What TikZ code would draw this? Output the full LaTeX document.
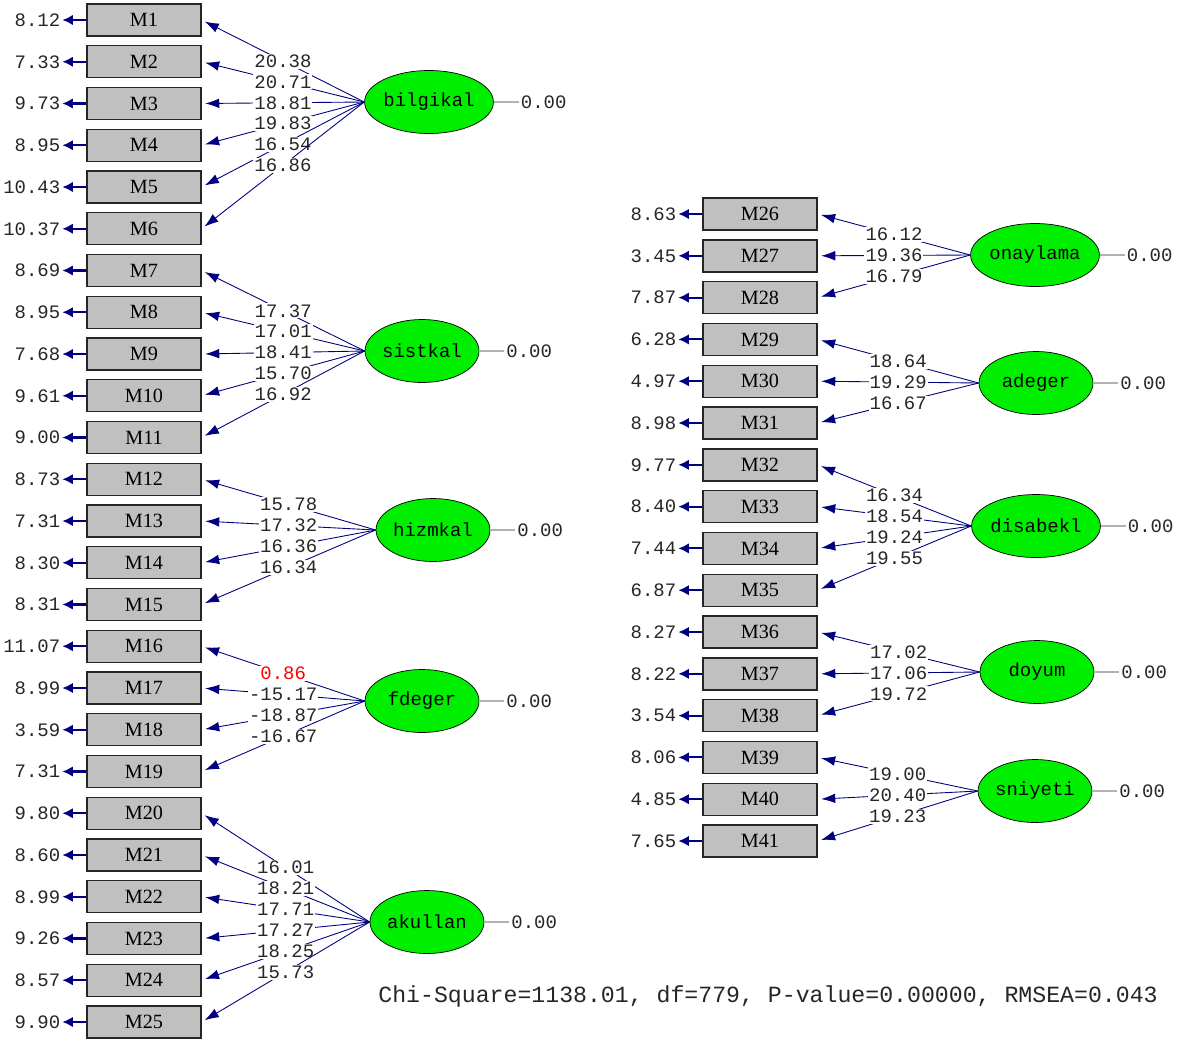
\documentclass[tikz,border=0pt]{standalone}
\usepackage{fontspec}
\setmainfont{Liberation Serif}
\newfontfamily\lismono{Liberation Mono}
\usetikzlibrary{positioning, shapes.geometric, arrows.meta}
\definecolor{lnavy}{RGB}{0,0,128}
\definecolor{boxgray}{RGB}{192,192,192}
\definecolor{latgreen}{RGB}{0,238,0}
\begin{document}
\begin{tikzpicture}[x=0.02cm, y=-0.02cm,
    ind/.style={draw=black!85, line width=0.8pt, fill=boxgray, minimum width=2.28cm, minimum height=0.64cm, inner sep=0pt, font=\fontsize{11.5}{13}\selectfont},
    lat/.style={ellipse, draw=black, fill=latgreen, minimum width=2.28cm, minimum height=1.26cm, inner sep=0pt, font=\lismono\fontsize{10.8}{12}\selectfont},
    errv/.style={inner sep=1pt, text=black!85, font=\lismono\fontsize{10.8}{12}\selectfont},
    lab/.style={midway, fill=white, inner sep=0.6pt, text=black!85, font=\lismono\fontsize{10.8}{12}\selectfont},
    load/.style={lnavy, line width=0.5pt, -{Latex[length=8pt,width=5.5pt]}, shorten >=2pt},
    errarr/.style={lnavy, line width=1.2pt, -{Latex[length=6pt,width=6pt]}},
    varl/.style={black!30, line width=0.6pt}]
    \fill[white] (0,0) rectangle (1183,1039);
    \useasboundingbox (0,0) rectangle (1183,1039);

    % 测量变量（左）
    \node[ind] (M1) at (144,20) {M1};        \node[errv, left=0.48cm of M1] (e1) {8.12};   \draw[errarr] (M1) -- (e1);
    \node[ind] (M2) at (144,61.75) {M2};     \node[errv, left=0.48cm of M2] (e2) {7.33};   \draw[errarr] (M2) -- (e2);
    \node[ind] (M3) at (144,103.5) {M3};     \node[errv, left=0.48cm of M3] (e3) {9.73};   \draw[errarr] (M3) -- (e3);
    \node[ind] (M4) at (144,145.25) {M4};    \node[errv, left=0.48cm of M4] (e4) {8.95};   \draw[errarr] (M4) -- (e4);
    \node[ind] (M5) at (144,187) {M5};       \node[errv, left=0.48cm of M5] (e5) {10.43};  \draw[errarr] (M5) -- (e5);
    \node[ind] (M6) at (144,228.75) {M6};    \node[errv, left=0.48cm of M6] (e6) {10.37};  \draw[errarr] (M6) -- (e6);
    \node[ind] (M7) at (144,270.5) {M7};     \node[errv, left=0.48cm of M7] (e7) {8.69};   \draw[errarr] (M7) -- (e7);
    \node[ind] (M8) at (144,312.25) {M8};    \node[errv, left=0.48cm of M8] (e8) {8.95};   \draw[errarr] (M8) -- (e8);
    \node[ind] (M9) at (144,354) {M9};       \node[errv, left=0.48cm of M9] (e9) {7.68};   \draw[errarr] (M9) -- (e9);
    \node[ind] (M10) at (144,395.75) {M10};  \node[errv, left=0.48cm of M10] (e10) {9.61}; \draw[errarr] (M10) -- (e10);
    \node[ind] (M11) at (144,437.5) {M11};   \node[errv, left=0.48cm of M11] (e11) {9.00}; \draw[errarr] (M11) -- (e11);
    \node[ind] (M12) at (144,479.25) {M12};  \node[errv, left=0.48cm of M12] (e12) {8.73}; \draw[errarr] (M12) -- (e12);
    \node[ind] (M13) at (144,521) {M13};     \node[errv, left=0.48cm of M13] (e13) {7.31}; \draw[errarr] (M13) -- (e13);
    \node[ind] (M14) at (144,562.75) {M14};  \node[errv, left=0.48cm of M14] (e14) {8.30}; \draw[errarr] (M14) -- (e14);
    \node[ind] (M15) at (144,604.5) {M15};   \node[errv, left=0.48cm of M15] (e15) {8.31}; \draw[errarr] (M15) -- (e15);
    \node[ind] (M16) at (144,646.25) {M16};  \node[errv, left=0.48cm of M16] (e16) {11.07}; \draw[errarr] (M16) -- (e16);
    \node[ind] (M17) at (144,688) {M17};     \node[errv, left=0.48cm of M17] (e17) {8.99}; \draw[errarr] (M17) -- (e17);
    \node[ind] (M18) at (144,729.75) {M18};  \node[errv, left=0.48cm of M18] (e18) {3.59}; \draw[errarr] (M18) -- (e18);
    \node[ind] (M19) at (144,771.5) {M19};   \node[errv, left=0.48cm of M19] (e19) {7.31}; \draw[errarr] (M19) -- (e19);
    \node[ind] (M20) at (144,813.25) {M20};  \node[errv, left=0.48cm of M20] (e20) {9.80}; \draw[errarr] (M20) -- (e20);
    \node[ind] (M21) at (144,855) {M21};     \node[errv, left=0.48cm of M21] (e21) {8.60}; \draw[errarr] (M21) -- (e21);
    \node[ind] (M22) at (144,896.75) {M22};  \node[errv, left=0.48cm of M22] (e22) {8.99}; \draw[errarr] (M22) -- (e22);
    \node[ind] (M23) at (144,938.5) {M23};   \node[errv, left=0.48cm of M23] (e23) {9.26}; \draw[errarr] (M23) -- (e23);
    \node[ind] (M24) at (144,980.25) {M24};  \node[errv, left=0.48cm of M24] (e24) {8.57}; \draw[errarr] (M24) -- (e24);
    \node[ind] (M25) at (144,1022) {M25};    \node[errv, left=0.48cm of M25] (e25) {9.90}; \draw[errarr] (M25) -- (e25);

    % 测量变量（右）
    \node[ind] (M26) at (760,214) {M26};     \node[errv, left=0.48cm of M26] (e26) {8.63}; \draw[errarr] (M26) -- (e26);
    \node[ind] (M27) at (760,255.8) {M27};   \node[errv, left=0.48cm of M27] (e27) {3.45}; \draw[errarr] (M27) -- (e27);
    \node[ind] (M28) at (760,297.6) {M28};   \node[errv, left=0.48cm of M28] (e28) {7.87}; \draw[errarr] (M28) -- (e28);
    \node[ind] (M29) at (760,339.4) {M29};   \node[errv, left=0.48cm of M29] (e29) {6.28}; \draw[errarr] (M29) -- (e29);
    \node[ind] (M30) at (760,381.2) {M30};   \node[errv, left=0.48cm of M30] (e30) {4.97}; \draw[errarr] (M30) -- (e30);
    \node[ind] (M31) at (760,423) {M31};     \node[errv, left=0.48cm of M31] (e31) {8.98}; \draw[errarr] (M31) -- (e31);
    \node[ind] (M32) at (760,464.8) {M32};   \node[errv, left=0.48cm of M32] (e32) {9.77}; \draw[errarr] (M32) -- (e32);
    \node[ind] (M33) at (760,506.6) {M33};   \node[errv, left=0.48cm of M33] (e33) {8.40}; \draw[errarr] (M33) -- (e33);
    \node[ind] (M34) at (760,548.4) {M34};   \node[errv, left=0.48cm of M34] (e34) {7.44}; \draw[errarr] (M34) -- (e34);
    \node[ind] (M35) at (760,590.2) {M35};   \node[errv, left=0.48cm of M35] (e35) {6.87}; \draw[errarr] (M35) -- (e35);
    \node[ind] (M36) at (760,632) {M36};     \node[errv, left=0.48cm of M36] (e36) {8.27}; \draw[errarr] (M36) -- (e36);
    \node[ind] (M37) at (760,673.8) {M37};   \node[errv, left=0.48cm of M37] (e37) {8.22}; \draw[errarr] (M37) -- (e37);
    \node[ind] (M38) at (760,715.6) {M38};   \node[errv, left=0.48cm of M38] (e38) {3.54}; \draw[errarr] (M38) -- (e38);
    \node[ind] (M39) at (760,757.4) {M39};   \node[errv, left=0.48cm of M39] (e39) {8.06}; \draw[errarr] (M39) -- (e39);
    \node[ind] (M40) at (760,799.2) {M40};   \node[errv, left=0.48cm of M40] (e40) {4.85}; \draw[errarr] (M40) -- (e40);
    \node[ind] (M41) at (760,841) {M41};     \node[errv, left=0.48cm of M41] (e41) {7.65}; \draw[errarr] (M41) -- (e41);

    % 潜变量
    \node[lat] (bilgikal) at (429,102) {bilgikal};
    \node[lat] (sistkal) at (422,351) {sistkal};
    \node[lat] (hizmkal) at (433,530) {hizmkal};
    \node[lat] (fdeger) at (422,701) {fdeger};
    \node[lat] (akullan) at (427,922) {akullan};
    \node[lat] (onaylama) at (1035,255) {onaylama};
    \node[lat] (adeger) at (1036,383) {adeger};
    \node[lat] (disabekl) at (1036,526) {disabekl};
    \node[lat] (doyum) at (1037,672) {doyum};
    \node[lat] (sniyeti) at (1035,791) {sniyeti};

    % 方差
    \node[errv, right=0.5cm of bilgikal] (v1) {0.00}; \draw[varl] (bilgikal) -- (v1);
    \node[errv, right=0.5cm of sistkal] (v2) {0.00};  \draw[varl] (sistkal) -- (v2);
    \node[errv, right=0.5cm of hizmkal] (v3) {0.00};  \draw[varl] (hizmkal) -- (v3);
    \node[errv, right=0.5cm of fdeger] (v4) {0.00};   \draw[varl] (fdeger) -- (v4);
    \node[errv, right=0.5cm of akullan] (v5) {0.00};  \draw[varl] (akullan) -- (v5);
    \node[errv, right=0.5cm of onaylama] (v6) {0.00}; \draw[varl] (onaylama) -- (v6);
    \node[errv, right=0.5cm of adeger] (v7) {0.00};   \draw[varl] (adeger) -- (v7);
    \node[errv, right=0.5cm of disabekl] (v8) {0.00}; \draw[varl] (disabekl) -- (v8);
    \node[errv, right=0.5cm of doyum] (v9) {0.00};    \draw[varl] (doyum) -- (v9);
    \node[errv, right=0.5cm of sniyeti] (v10) {0.00}; \draw[varl] (sniyeti) -- (v10);

    % 因子载荷
    \draw[load] (bilgikal.west) -- (M1.east) node[lab] {20.38};
    \draw[load] (bilgikal.west) -- (M2.east) node[lab] {20.71};
    \draw[load] (bilgikal.west) -- (M3.east) node[lab] {18.81};
    \draw[load] (bilgikal.west) -- (M4.east) node[lab] {19.83};
    \draw[load] (bilgikal.west) -- (M5.east) node[lab] {16.54};
    \draw[load] (bilgikal.west) -- (M6.east) node[lab] {16.86};

    \draw[load] (sistkal.west) -- (M7.east) node[lab] {17.37};
    \draw[load] (sistkal.west) -- (M8.east) node[lab] {17.01};
    \draw[load] (sistkal.west) -- (M9.east) node[lab] {18.41};
    \draw[load] (sistkal.west) -- (M10.east) node[lab] {15.70};
    \draw[load] (sistkal.west) -- (M11.east) node[lab] {16.92};

    \draw[load] (hizmkal.west) -- (M12.east) node[lab] {15.78};
    \draw[load] (hizmkal.west) -- (M13.east) node[lab] {17.32};
    \draw[load] (hizmkal.west) -- (M14.east) node[lab] {16.36};
    \draw[load] (hizmkal.west) -- (M15.east) node[lab] {16.34};

    \draw[load] (fdeger.west) -- (M16.east) node[lab, text=red] {0.86};
    \draw[load] (fdeger.west) -- (M17.east) node[lab] {-15.17};
    \draw[load] (fdeger.west) -- (M18.east) node[lab] {-18.87};
    \draw[load] (fdeger.west) -- (M19.east) node[lab] {-16.67};

    \draw[load] (akullan.west) -- (M20.east) node[lab] {16.01};
    \draw[load] (akullan.west) -- (M21.east) node[lab] {18.21};
    \draw[load] (akullan.west) -- (M22.east) node[lab] {17.71};
    \draw[load] (akullan.west) -- (M23.east) node[lab] {17.27};
    \draw[load] (akullan.west) -- (M24.east) node[lab] {18.25};
    \draw[load] (akullan.west) -- (M25.east) node[lab] {15.73};

    \draw[load] (onaylama.west) -- (M26.east) node[lab] {16.12};
    \draw[load] (onaylama.west) -- (M27.east) node[lab] {19.36};
    \draw[load] (onaylama.west) -- (M28.east) node[lab] {16.79};

    \draw[load] (adeger.west) -- (M29.east) node[lab] {18.64};
    \draw[load] (adeger.west) -- (M30.east) node[lab] {19.29};
    \draw[load] (adeger.west) -- (M31.east) node[lab] {16.67};

    \draw[load] (disabekl.west) -- (M32.east) node[lab] {16.34};
    \draw[load] (disabekl.west) -- (M33.east) node[lab] {18.54};
    \draw[load] (disabekl.west) -- (M34.east) node[lab] {19.24};
    \draw[load] (disabekl.west) -- (M35.east) node[lab] {19.55};

    \draw[load] (doyum.west) -- (M36.east) node[lab] {17.02};
    \draw[load] (doyum.west) -- (M37.east) node[lab] {17.06};
    \draw[load] (doyum.west) -- (M38.east) node[lab] {19.72};

    \draw[load] (sniyeti.west) -- (M39.east) node[lab] {19.00};
    \draw[load] (sniyeti.west) -- (M40.east) node[lab] {20.40};
    \draw[load] (sniyeti.west) -- (M41.east) node[lab] {19.23};

    % 拟合指标
    \node[anchor=west, inner sep=0pt, text=black!85, font=\lismono\fontsize{13.2}{15}\selectfont] (fit) at (378,996) {Chi-Square=1138.01, df=779, P-value=0.00000, RMSEA=0.043};
\end{tikzpicture}
\end{document}
